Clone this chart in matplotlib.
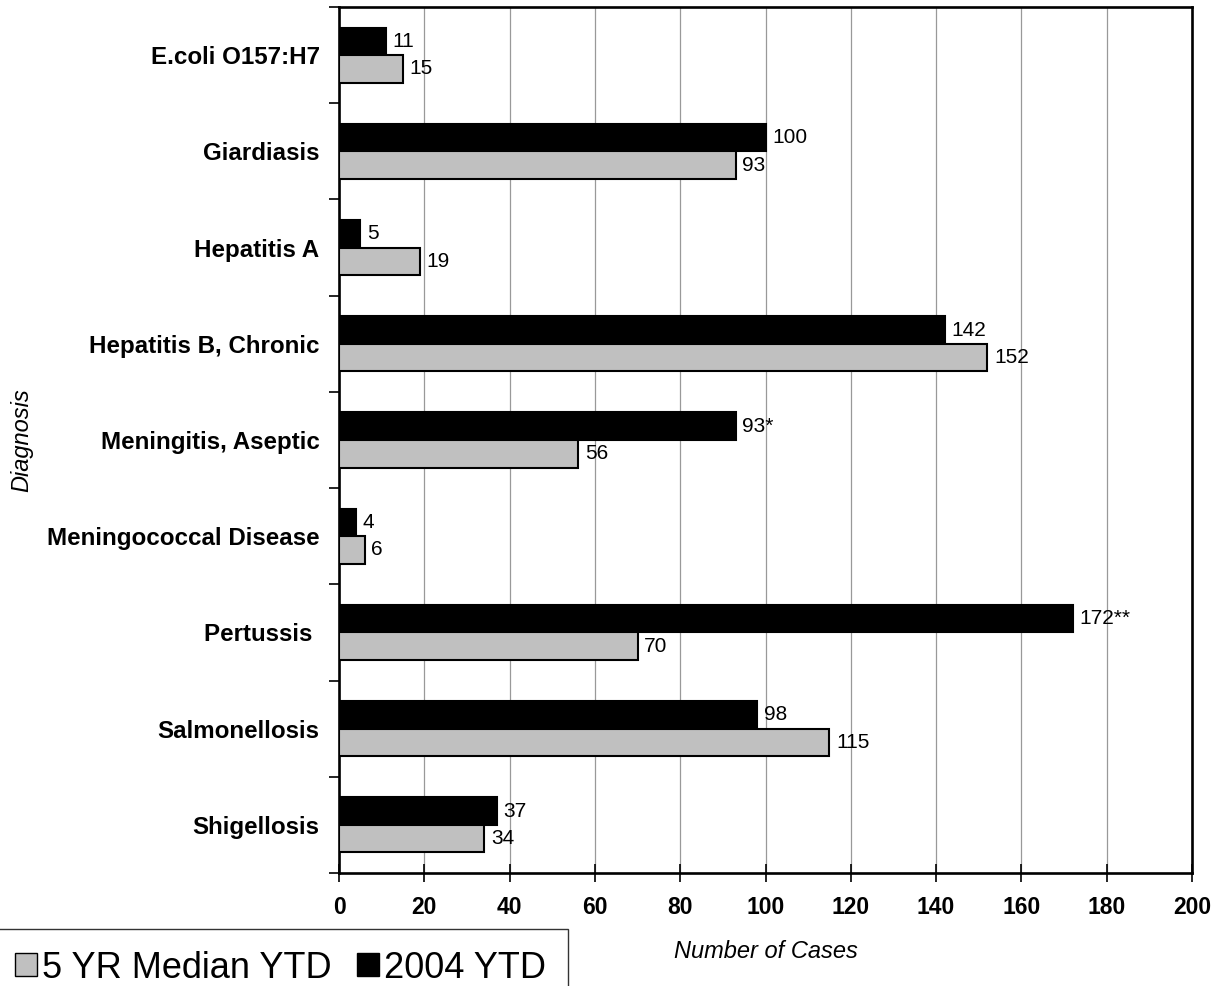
import numpy as np
import matplotlib.pyplot as plt
from matplotlib.patches import Patch
from matplotlib.ticker import FixedLocator

plt.rcParams["font.family"] = ["Liberation Sans", "DejaVu Sans"]

# Year-to-date case counts by diagnosis
diagnoses = [
    "E.coli O157:H7",
    "Giardiasis",
    "Hepatitis A",
    "Hepatitis B, Chronic",
    "Meningitis, Aseptic",
    "Meningococcal Disease",
    "Pertussis ",
    "Salmonellosis",
    "Shigellosis",
]
ytd_2004 = [11, 100, 5, 142, 93, 4, 172, 98, 37]
median_5yr = [15, 93, 19, 152, 56, 6, 70, 115, 34]
ytd_2004_notes = ["", "", "", "", "*", "", "**", "", ""]
x_ticks = [0, 20, 40, 60, 80, 100, 120, 140, 160, 180, 200]

GRAY = "#c0c0c0"

fig = plt.figure(figsize=(12.17, 9.86), dpi=100)
W, H = 1217, 986
left, right, top, bottom = 339, 1192, 7, 873
ax = fig.add_axes([left / W, 1 - bottom / H, (right - left) / W, (bottom - top) / H])

y = np.arange(len(diagnoses))
bar_h = 0.286

ax.barh(y - bar_h / 2, ytd_2004, height=bar_h, color="black",
        edgecolor="black", linewidth=1.5, zorder=3)
ax.barh(y + bar_h / 2, median_5yr, height=bar_h, color=GRAY,
        edgecolor="black", linewidth=1.5, zorder=3)

# value labels next to each bar
for i in range(len(diagnoses)):
    ax.text(ytd_2004[i] + 1.6, y[i] - bar_h / 2, f"{ytd_2004[i]}{ytd_2004_notes[i]}",
            va="center", ha="left", fontsize=15, zorder=4)
    ax.text(median_5yr[i] + 1.6, y[i] + bar_h / 2, f"{median_5yr[i]}",
            va="center", ha="left", fontsize=15, zorder=4)

ax.set_xlim(0, 200)
ax.set_ylim(len(diagnoses) - 0.5, -0.5)
ax.set_xticks(x_ticks)
ax.set_xticklabels([str(t) for t in x_ticks], fontweight="bold", fontsize=16.5)
ax.tick_params(axis="x", direction="inout", length=13, width=1.2, pad=10)

ax.set_yticks(y)
ax.set_yticklabels(diagnoses, fontweight="bold", fontsize=17.4)
ax.tick_params(axis="y", which="major", length=0, pad=14)
ax.yaxis.set_minor_locator(FixedLocator(np.arange(len(diagnoses) + 1) - 0.5))
ax.tick_params(axis="y", which="minor", direction="out", length=7, width=1.2)

ax.grid(axis="x", color="#999999", linewidth=0.9, zorder=0)
ax.set_axisbelow(True)
for s in ax.spines.values():
    s.set_linewidth(1.9)

ax.set_xlabel("Number of Cases", fontstyle="italic", fontsize=17, va="center")
ax.xaxis.set_label_coords(0.5, (bottom - 952) / (bottom - top))
ax.set_ylabel("Diagnosis", fontstyle="italic", fontsize=17, va="center")
ax.yaxis.set_label_coords((22 - left) / (right - left), 0.5)

handles = [
    Patch(facecolor=GRAY, edgecolor="black", linewidth=1.0),
    Patch(facecolor="black", edgecolor="black", linewidth=1.0),
]
# legend sits in the lower-left corner, running off the figure edge
leg = fig.legend(handles, ["5 YR Median YTD", "2004 YTD"], loc="upper right",
                 bbox_to_anchor=(568 / W, 1 - 929 / H), ncol=2, fontsize=26,
                 frameon=True, fancybox=False, edgecolor="black",
                 handlelength=0.6, handleheight=0.6, handletextpad=0.15,
                 columnspacing=0.7, borderpad=0.6, borderaxespad=0)
leg.get_frame().set_linewidth(1.0)

fig.savefig("out.png", dpi=100)
